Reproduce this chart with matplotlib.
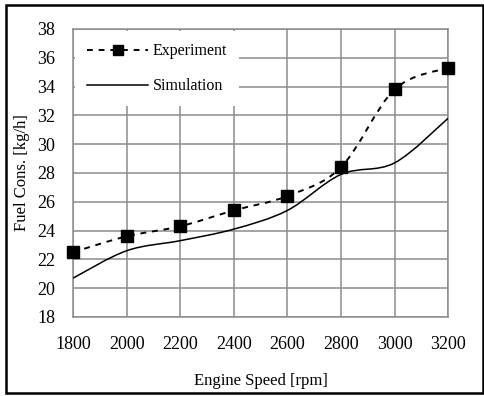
import numpy as np
import matplotlib.pyplot as plt
from matplotlib.path import Path
from matplotlib.patches import PathPatch, Rectangle
from matplotlib.lines import Line2D

plt.rcParams['font.family'] = ['Liberation Serif', 'DejaVu Serif']

speed = [1800, 2000, 2200, 2400, 2600, 2800, 3000, 3200]
experiment = [22.5, 23.6, 24.3, 25.4, 26.4, 28.4, 33.8, 35.3]
simulation = [20.7, 22.6, 23.3, 24.1, 25.4, 27.9, 28.7, 31.8]


def smooth_path(x, y):
    # excel-like smoothed line: bezier segments through the data points
    x = np.asarray(x, float)
    y = np.asarray(y, float)
    n = len(x)
    verts = [(x[0], y[0])]
    codes = [Path.MOVETO]
    t = 1.0 / 6
    for i in range(n - 1):
        x0, y0 = (x[i - 1], y[i - 1]) if i > 0 else (x[i], y[i])
        x3, y3 = (x[i + 2], y[i + 2]) if i + 2 < n else (x[i + 1], y[i + 1])
        c1 = (x[i] + t * (x[i + 1] - x0), y[i] + t * (y[i + 1] - y0))
        c2 = (x[i + 1] - t * (x3 - x[i]), y[i + 1] - t * (y3 - y[i]))
        verts += [c1, c2, (x[i + 1], y[i + 1])]
        codes += [Path.CURVE4] * 3
    return Path(verts, codes)


fig = plt.figure(figsize=(4.84, 3.96), dpi=100)
ax = fig.add_axes([0.151, 0.1995, 0.775, 0.7275])

ax.add_patch(PathPatch(smooth_path(speed, experiment), fill=False,
                       color='black', lw=1.4, ls=(0, (3, 3)), zorder=3))
ax.add_patch(PathPatch(smooth_path(speed, simulation), fill=False,
                       color='black', lw=1.1, zorder=3))
ax.plot(speed, experiment, ls='none', marker='s', ms=8, color='black',
        clip_on=False, zorder=4)

ax.set_xlim(1800, 3200)
ax.set_ylim(18, 38)
ax.set_xticks(range(1800, 3201, 200))
ax.set_yticks(range(18, 39, 2))
ax.grid(True, color='#8c8c8c', lw=1.1)
for s in ax.spines.values():
    s.set_color('#8c8c8c')
    s.set_linewidth(1.1)
ax.tick_params(length=0, labelsize=13)
ax.tick_params(axis='x', pad=14)
ax.tick_params(axis='y', pad=13)
ax.set_xlabel('Engine Speed [rpm]', fontsize=12, labelpad=14)
ax.set_ylabel('Fuel Cons. [kg/h]', fontsize=12, labelpad=5)

handles = [Line2D([], [], color='black', ls=(0, (3, 3)), lw=1.4, marker='s', ms=7),
           Line2D([], [], color='black', lw=1.1)]
leg = ax.legend(handles, ['Experiment', 'Simulation'], loc='upper left',
                frameon=True, fontsize=11.5, handlelength=3.8, handletextpad=0.3,
                borderaxespad=0.15, borderpad=0.75, labelspacing=1.2, fancybox=False)
leg.get_frame().set_edgecolor('none')
leg.get_frame().set_facecolor('white')
leg.get_frame().set_alpha(1)

fig.patches.append(Rectangle((0.013, 0.008), 0.985, 0.98, transform=fig.transFigure,
                             fill=False, ec='black', lw=1.8))

fig.savefig('out.png', dpi=100)
